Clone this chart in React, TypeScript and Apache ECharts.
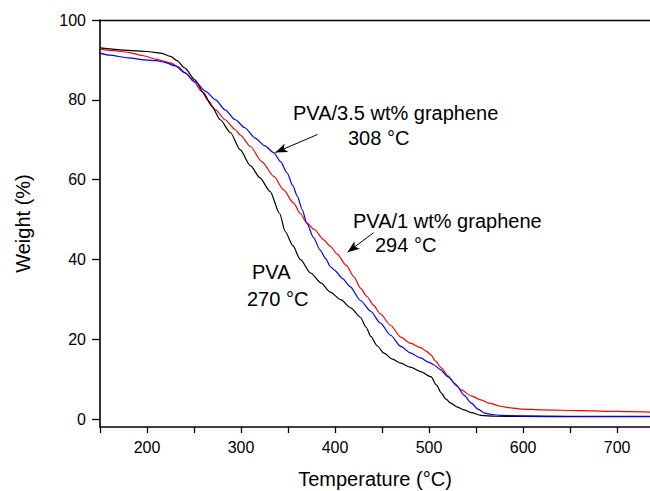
import React, { useEffect, useRef } from "react";
import * as echarts from "echarts";

const FONT = "'Liberation Sans', Arial, sans-serif";

// PVA (black)
const tempPVA = [150, 180, 200, 215, 225, 232, 240, 251, 260, 269, 278, 288.6, 299, 310, 320, 331, 341, 347, 355, 363, 374, 385, 395, 406, 417, 427, 433, 438, 445, 452, 461, 470, 480, 491, 502, 508, 513, 518, 523, 530, 537, 545, 555, 570, 600, 650, 735];
const weightPVA = [93.0, 92.4, 92.1, 91.7, 90.9, 89.8, 88.0, 85.0, 81.8, 78.3, 75.0, 71.8, 67.5, 63.5, 60.5, 57.0, 51.5, 47.0, 43.5, 40.0, 36.6, 34.1, 31.8, 29.9, 27.8, 25.5, 23.0, 20.7, 18.3, 16.5, 15.0, 14.0, 13.0, 11.9, 10.6, 8.5, 6.5, 5.0, 4.0, 3.0, 2.3, 1.6, 0.9, 0.7, 0.65, 0.6, 0.6];

// PVA/1 wt% graphene (red)
const temp1wt = [150, 165, 180, 195, 209, 226, 233, 241, 250, 258, 265, 273, 283, 294, 299, 310, 322, 335, 345, 356, 363, 370, 378, 388, 395, 402, 412, 420, 427, 434, 441, 448, 459, 470, 480, 491, 497, 502, 507, 513, 520, 527, 534, 545, 555, 565, 576, 587, 598, 620, 662, 700, 735];
const weight1wt = [92.7, 92.3, 91.9, 91.1, 90.2, 89.2, 88.3, 86.7, 84.5, 82.1, 79.8, 77.5, 75.0, 72.5, 71.2, 68.3, 64.5, 60.8, 57.5, 54.1, 51.5, 49.1, 47.5, 44.9, 43.3, 41.4, 38.5, 35.7, 32.8, 30.7, 28.5, 26.4, 23.5, 20.5, 19.0, 17.9, 17.0, 16.1, 14.5, 12.8, 10.8, 9.0, 7.3, 5.8, 4.8, 3.9, 3.2, 2.8, 2.5, 2.3, 2.1, 1.9, 1.75];

// PVA/3.5 wt% graphene (blue)
const temp35wt = [150, 160, 180, 198, 210, 219, 230, 240, 251, 262, 273, 283, 294, 304, 315, 325, 335, 342, 349, 355, 360, 365, 370, 377, 384, 390, 395, 399, 408, 416, 427, 438, 448, 459, 470, 480, 491, 500, 505, 512, 520, 530, 537, 545, 552, 559, 567, 576, 600, 650, 735];
const weight35wt = [91.7, 91.2, 90.5, 90.0, 89.8, 89.4, 88.5, 86.8, 84.6, 82.2, 80.0, 77.5, 75.0, 73.0, 70.4, 68.5, 66.7, 64.5, 61.7, 58.5, 55.8, 52.5, 49.1, 45.5, 42.4, 40.2, 38.2, 37.4, 35.2, 33.2, 29.7, 27.0, 24.1, 21.0, 18.2, 16.6, 15.3, 14.2, 13.6, 12.4, 10.6, 8.2, 6.0, 4.0, 2.5, 1.5, 1.1, 0.9, 0.8, 0.7, 0.65];

const xTickValues = [150, 200, 250, 300, 350, 400, 450, 500, 550, 600, 650, 700];
const xLabelValues = [200, 300, 400, 500, 600, 700];
const yTickValues = [0, 20, 40, 60, 80, 100];

// arrows: [start, end] in data coordinates
const arrow35 = [[381.3, 71.3], [336.6, 66.8]];
const arrow1 = [[441, 46.7], [413.3, 41.8]];

const zip = (a: number[], b: number[]) => a.map((v, i) => [v, b[i]]);

export default function App() {
  const ref = useRef<HTMLDivElement>(null);
  useEffect(() => {
    if (!ref.current) return;
    const chart = echarts.init(ref.current, undefined, { renderer: "svg" });
    const annText = (text: string, x: number, y: number) => ({
      type: "text",
      x,
      y,
      style: {
        text,
        fontSize: 20,
        fontFamily: FONT,
        fill: "#000",
        textAlign: "left",
        textVerticalAlign: "middle",
      },
    });
    const lineSeries = (name: string, t: number[], w: number[], color: string, z: number) => ({
      name,
      type: "line",
      data: zip(t, w),
      showSymbol: false,
      smooth: 0.25,
      smoothMonotone: "x",
      lineStyle: { color, width: 1.2 },
      itemStyle: { color },
      z,
    });
    chart.setOption({
      animation: false,
      backgroundColor: "#fff",
      grid: { left: 100, right: 0, top: 20, bottom: 64, containLabel: false, outerBoundsMode: "none" },
      xAxis: [
        {
          type: "value",
          min: 150,
          max: 735,
          name: "Temperature (°C)",
          nameLocation: "middle",
          nameGap: 42,
          nameTextStyle: { fontSize: 20, fontFamily: FONT, color: "#000" },
          axisLine: { show: true, onZero: false, lineStyle: { color: "#000", width: 1.6 } },
          axisTick: { show: true, inside: false, length: 6, customValues: xTickValues, lineStyle: { color: "#000", width: 1.3 } },
          axisLabel: { customValues: xLabelValues, fontSize: 16, fontFamily: FONT, color: "#000", margin: 12 },
          splitLine: { show: false },
        },
        {
          type: "value",
          position: "top",
          min: 150,
          max: 735,
          axisLine: { show: true, onZero: false, lineStyle: { color: "#000", width: 1.3 } },
          axisTick: { show: false },
          axisLabel: { show: false },
          splitLine: { show: false },
        },
      ],
      yAxis: {
        type: "value",
        min: -2,
        max: 100,
        name: "Weight (%)",
        nameLocation: "middle",
        nameGap: 67,
        nameTextStyle: { fontSize: 20, fontFamily: FONT, color: "#000" },
        axisLine: { show: true, onZero: false, lineStyle: { color: "#000", width: 1.6 } },
        axisTick: { show: true, inside: false, length: 8, customValues: yTickValues, lineStyle: { color: "#000", width: 1.3 } },
        axisLabel: { customValues: yTickValues, fontSize: 16, fontFamily: FONT, color: "#000", margin: 14 },
        splitLine: { show: false },
      },
      series: [
        lineSeries("PVA", tempPVA, weightPVA, "#000000", 3),
        lineSeries("PVA/1 wt% graphene", temp1wt, weight1wt, "#ff0000", 2),
        {
          ...lineSeries("PVA/3.5 wt% graphene", temp35wt, weight35wt, "#0000ff", 4),
          markLine: {
            silent: true,
            symbol: ["none", "arrow"],
            symbolSize: [7, 12],
            label: { show: false },
            lineStyle: { color: "#000", width: 1, type: "solid" },
            data: [
              [{ coord: arrow35[0] }, { coord: arrow35[1] }],
              [{ coord: arrow1[0] }, { coord: arrow1[1] }],
            ],
          },
        },
      ],
      graphic: [
        annText("PVA/3.5 wt% graphene", 293, 113),
        annText("308 °C", 348, 138),
        annText("PVA/1 wt% graphene", 353, 221),
        annText("294 °C", 375, 245),
        annText("PVA", 252, 272),
        annText("270 °C", 247, 299),
      ],
    });
    return () => chart.dispose();
  }, []);
  return (
    <div
      ref={ref}
      style={{ position: "fixed", left: 0, top: 0, width: 650, height: 491 }}
    />
  );
}
